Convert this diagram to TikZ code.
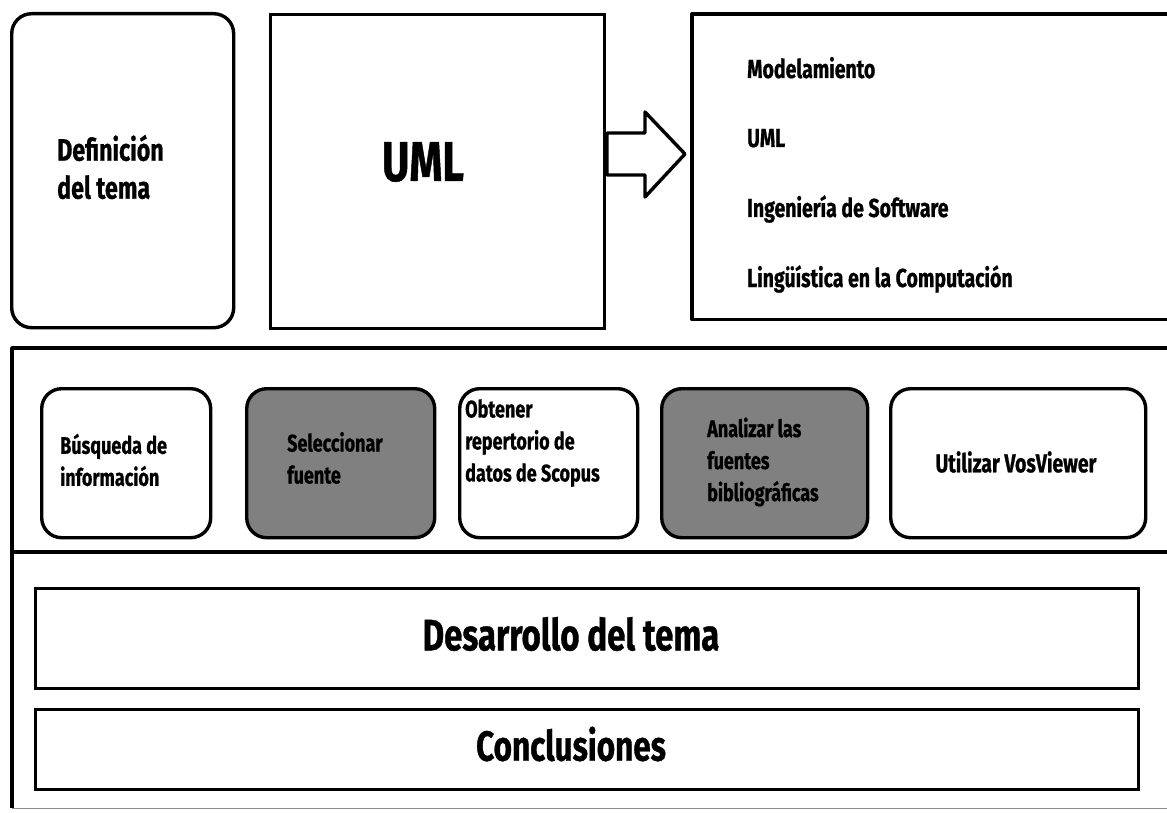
\documentclass[tikz,border=0pt]{standalone}
\usepackage{fontspec}
\setmainfont{Fira Sans}[FakeStretch=0.75, BoldFeatures={FakeBold=0.8}]
\begin{document}
\begin{tikzpicture}[x=1pt,y=-1pt,
  line/.style={line width=3.4pt, line join=round},
  roundbox/.style={draw, line width=3.4pt, rounded corners=20pt, inner sep=0pt, anchor=north west},
  sharpbox/.style={draw, line width=3.4pt, inner sep=0pt, anchor=north west},
  openbox/.style={draw=none, inner sep=0pt, anchor=north west},
  shadedbox/.style={fill=black!50},
  lbl/.style={font=\bfseries, align=left, inner sep=0pt, anchor=west},
  rowtxt/.style={lbl, font=\bfseries\fontsize{24}{32}\selectfont},
  itemtxt/.style={inner sep=0pt, anchor=base west, font=\bfseries\fontsize{26}{28}\selectfont}]
\useasboundingbox (0,0) rectangle (1167,813);

% top row
\node[roundbox, minimum width=222pt, minimum height=314pt] (def) at (10,12) {};
\node[lbl, font=\bfseries\fontsize{31}{38}\selectfont] (deft) at (57,167) {Definición\\del tema};

\node[sharpbox, minimum width=334pt, minimum height=314pt] (uml) at (269,13) {};
\node[inner sep=0pt, font=\bfseries\fontsize{56}{60}\selectfont] (umlt) at (423,162) {UML};

\node[openbox, minimum width=475pt, minimum height=305pt] (topics) at (692,14) {};
\draw[line] (topics.north east) -- (topics.north west) -- (topics.south west) -- (topics.south east);
\node[itemtxt] (t1) at (747,78) {Modelamiento};
\node[itemtxt] (t2) at (747,147) {UML};
\node[itemtxt] (t3) at (747,217) {Ingeniería de Software};
\node[itemtxt] (t4) at (747,287) {Lingüística en la Computación};

% block arrow
\coordinate (atail) at (607,154);
\coordinate (ahead) at (685,154);
\draw[line] (607,133) -- (645,133) -- (645,112) -- (ahead) -- (645,197) -- (645,175) -- (607,175) -- cycle;

% lower panel
\node[openbox, minimum width=1155pt, minimum height=460pt] (panel) at (12,348) {};
\draw[line] (panel.north east) -- (panel.north west) -- (panel.south west);
\draw[black!45, line width=1.2pt] (panel.south west) -- (panel.south east);
\coordinate (sepL) at (12,552);
\coordinate (sepR) at (1167,552);
\draw[line] (sepL) -- (sepR);

\node[roundbox, minimum width=169pt, minimum height=149pt] (b1) at (40,387) {};
\node[roundbox, shadedbox, minimum width=188pt, minimum height=149pt] (b2) at (245,387) {};
\node[roundbox, minimum width=178pt, minimum height=149pt] (b3) at (458,387) {};
\node[roundbox, shadedbox, minimum width=206pt, minimum height=149pt] (b4) at (660,387) {};
\node[roundbox, minimum width=255pt, minimum height=149pt] (b5) at (889,387) {};

\node[rowtxt] (b1t) at (60,460) {Búsqueda de\\información};
\node[rowtxt] (b2t) at (287,458) {Seleccionar\\fuente};
\node[rowtxt] (b3t) at (465,443) {Obtener\\repertorio de\\datos de Scopus};
\node[rowtxt] (b4t) at (707,462) {Analizar las\\fuentes\\bibliográficas};
\node[rowtxt, anchor=center, font=\bfseries\fontsize{26}{32}\selectfont] (b5t) at (1016,462) {Utilizar VosViewer};

\node[sharpbox, minimum width=1103pt, minimum height=100pt] (dev) at (34,587) {};
\node[inner sep=0pt, font=\bfseries\fontsize{44}{48}\selectfont] (devt) at (571,634) {Desarrollo del tema};
\node[sharpbox, minimum width=1103pt, minimum height=80pt] (conc) at (34,708) {};
\node[inner sep=0pt, font=\bfseries\fontsize{42}{46}\selectfont] (conct) at (571,744) {Conclusiones};
\end{tikzpicture}
\end{document}
